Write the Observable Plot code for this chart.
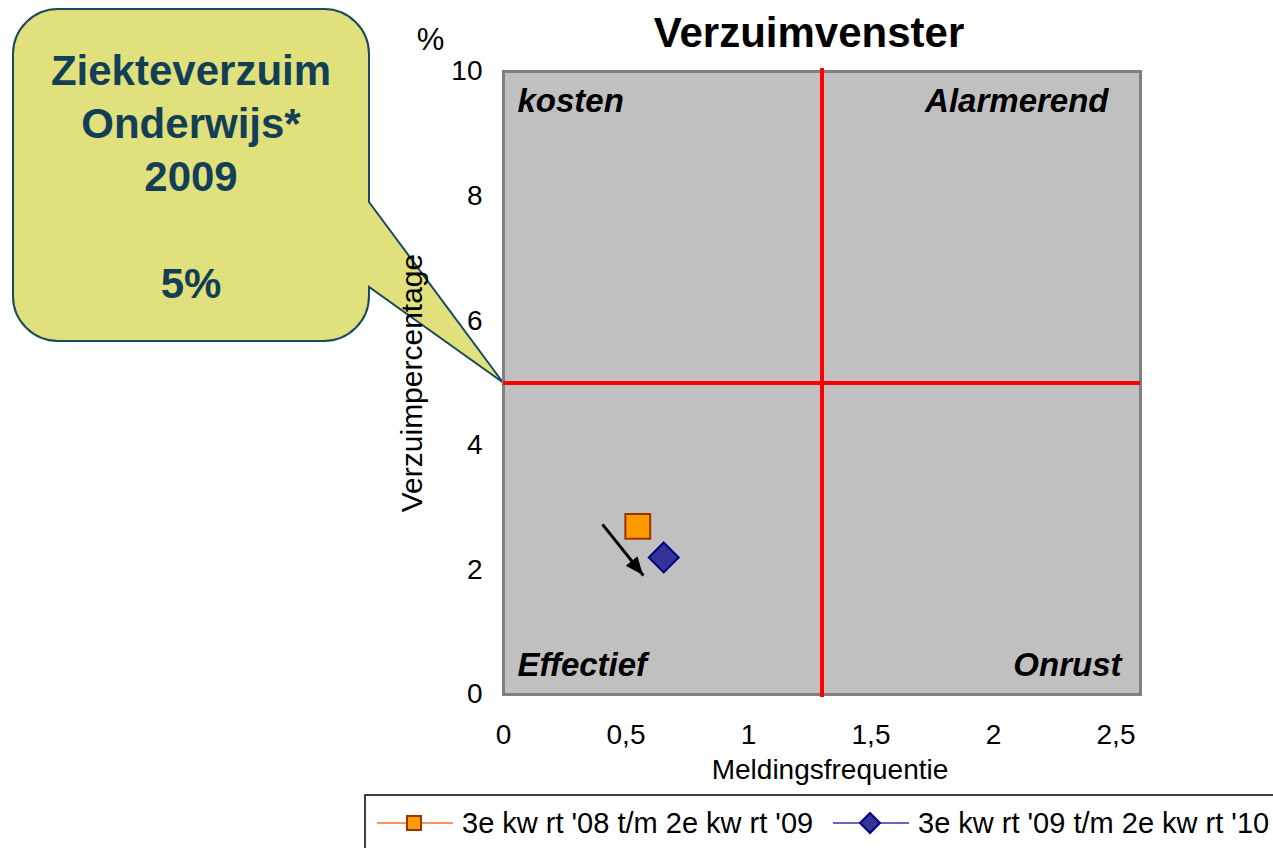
<!DOCTYPE html>
<html><head><meta charset="utf-8">
<script src="https://cdn.jsdelivr.net/npm/d3@7"></script>
<script src="https://cdn.jsdelivr.net/npm/@observablehq/plot@0.6"></script>
<style>
body{margin:0;background:#fff;}
#chart{position:relative;width:1273px;height:848px;overflow:hidden;}
</style>
</head><body><div id="chart"></div>
<script>
// ---- data ----
const seriesNames = ["3e kw rt '08 t/m 2e kw rt '09", "3e kw rt '09 t/m 2e kw rt '10"];
const meldingsfrequentie = [0.548, 0.654];
const verzuimpercentage = [2.70, 2.20];
const symbols = ["square", "diamond2"];
const fills = ["#FF9900", "#333399"];
const strokes = ["#993300", "#000080"];
const lineColors = ["#F07030", "#3333AA"];
const normFrequentie = 1.3;
const normPercentage = 5;
const xTicks = [0, 0.5, 1, 1.5, 2, 2.5];
const yTicks = [0, 2, 4, 6, 8, 10];
const quadrantLabels = ["kosten", "Alarmerend", "Effectief", "Onrust"];
const arrowFrom = [0.404, 2.73];
const arrowTo = [0.571, 1.91];
const calloutLines = ["Ziekteverzuim", "Onderwijs*", "2009", "5%"];

const FONT = "'Liberation Sans', Arial, sans-serif";
const data = seriesNames.map((name, i) => ({name, x: meldingsfrequentie[i], y: verzuimpercentage[i]}));
const commaFormat = d => String(d).replace(".", ",");

const quadrantStyle = {fontSize: 33, fontWeight: "bold", fontStyle: "italic", lineAnchor: "middle", fill: "black"};

const plot = Plot.plot({
  width: 1273, height: 848,
  marginLeft: 503, marginRight: 133, marginTop: 71, marginBottom: 154,
  style: {fontFamily: FONT, fontSize: "28px", background: "transparent", overflow: "visible", color: "black"},
  x: {domain: [0, 2.6]},
  y: {domain: [0, 10]},
  marks: [
    Plot.frame({fill: "#C0C0C0", stroke: "#808080", strokeWidth: 3}),
    Plot.ruleX([normFrequentie], {stroke: "#FF0000", strokeWidth: 4, insetTop: -3, insetBottom: -3}),
    Plot.ruleY([normPercentage], {stroke: "#FF0000", strokeWidth: 4}),
    Plot.axisY(yTicks, {tickSize: 0, tickPadding: 21, label: null, fontSize: 28, tickFormat: commaFormat}),
    Plot.axisX(xTicks, {tickSize: 0, tickPadding: 30, label: null, fontSize: 28, tickFormat: commaFormat}),
    Plot.text(["Verzuimvenster"], {frameAnchor: "top", dx: -13, dy: -38, fontSize: 42, fontWeight: "bold", lineAnchor: "middle"}),
    Plot.text(["%"], {frameAnchor: "top-left", textAnchor: "middle", dx: -73, dy: -31, fontSize: 31, lineAnchor: "middle"}),
    Plot.text(["Verzuimpercentage"], {frameAnchor: "left", textAnchor: "middle", dx: -91, rotate: -90, fontSize: 30, lineAnchor: "middle"}),
    Plot.text(["Meldingsfrequentie"], {frameAnchor: "bottom", dx: 8, dy: 76, fontSize: 28, lineAnchor: "middle"}),
    Plot.text([quadrantLabels[0]], {...quadrantStyle, frameAnchor: "top-left", textAnchor: "start", dx: 14, dy: 30}),
    Plot.text([quadrantLabels[1]], {...quadrantStyle, frameAnchor: "top-right", textAnchor: "end", dx: -32, dy: 30}),
    Plot.text([quadrantLabels[2]], {...quadrantStyle, frameAnchor: "bottom-left", textAnchor: "start", dx: 14, dy: -29}),
    Plot.text([quadrantLabels[3]], {...quadrantStyle, frameAnchor: "bottom-right", textAnchor: "end", dx: -19, dy: -29}),
    Plot.link([{x1: arrowFrom[0], y1: arrowFrom[1], x2: arrowTo[0], y2: arrowTo[1]}],
      {x1: "x1", y1: "y1", x2: "x2", y2: "y2", stroke: "black", strokeWidth: 3}),
    ...data.map((d, i) => Plot.dot([d], {x: "x", y: "y", symbol: symbols[i], fill: fills[i], stroke: strokes[i], strokeWidth: 2, r: i === 0 ? 14 : 13.5}))
  ]
});

document.getElementById("chart").appendChild(plot);

const sx = plot.scale("x"), sy = plot.scale("y");
const svg = d3.select(plot);

// ---- filled arrow head at the end of the arrow ----
{
  const ax0 = sx.apply(arrowFrom[0]), ay0 = sy.apply(arrowFrom[1]);
  const ax1 = sx.apply(arrowTo[0]), ay1 = sy.apply(arrowTo[1]);
  const ang = Math.atan2(ay1 - ay0, ax1 - ax0);
  const len = 18, half = 7.5;
  const bx = ax1 - len * Math.cos(ang), by = ay1 - len * Math.sin(ang);
  const px = -Math.sin(ang), py = Math.cos(ang);
  svg.append("path")
    .attr("d", `M${ax1},${ay1} L${bx + half * px},${by + half * py} L${bx - half * px},${by - half * py} Z`)
    .attr("fill", "black");
}

// ---- callout pointing at the norm (x = 0, y = normPercentage), drawn beneath the chart texts ----
const tipX = sx.apply(0), tipY = sy.apply(normPercentage);
const L = 13, T = 9, R = 369, B = 341, rad = 45, p1 = 202, p2 = 287;
const path = `M${L + rad},${T} H${R - rad} A${rad},${rad} 0 0 1 ${R},${T + rad} V${p1} L${tipX},${tipY} L${R},${p2} V${B - rad} A${rad},${rad} 0 0 1 ${R - rad},${B} H${L + rad} A${rad},${rad} 0 0 1 ${L},${B - rad} V${T + rad} A${rad},${rad} 0 0 1 ${L + rad},${T} Z`;
const cg = svg.insert("g", ":first-child");
cg.append("path").attr("d", path).attr("fill", "#E0E07C").attr("stroke", "#1A4A5C").attr("stroke-width", 2);
const baselines = [85, 138, 191, 298];
calloutLines.forEach((t, i) => {
  cg.append("text").attr("x", 191).attr("y", baselines[i]).attr("text-anchor", "middle")
    .attr("font-family", FONT).attr("font-size", 42).attr("font-weight", "bold").attr("fill", "#123F56").text(t);
});

// ---- legend ----
const lg = svg.append("g");
lg.append("rect").attr("x", 365).attr("y", 795).attr("width", 930).attr("height", 70)
  .attr("fill", "white").attr("stroke", "black").attr("stroke-width", 1.5);
const legendX = [377, 833];
const legendY = 823;
seriesNames.forEach((name, i) => {
  const x0 = legendX[i];
  lg.append("line").attr("x1", x0).attr("x2", x0 + 76).attr("y1", legendY).attr("y2", legendY)
    .attr("stroke", lineColors[i]).attr("stroke-width", 1.5);
  const sym = i === 0 ? d3.symbolSquare : d3.symbolDiamond2;
  lg.append("path").attr("d", d3.symbol(sym, i === 0 ? 196 : 255)())
    .attr("transform", `translate(${x0 + 37},${legendY})`)
    .attr("fill", fills[i]).attr("stroke", strokes[i]).attr("stroke-width", 2);
  lg.append("text").attr("x", x0 + 85).attr("y", legendY).attr("dy", "0.35em")
    .attr("text-anchor", "start")
    .attr("font-family", FONT).attr("font-size", 29).attr("fill", "black").text(name);
});
</script>
</body></html>
